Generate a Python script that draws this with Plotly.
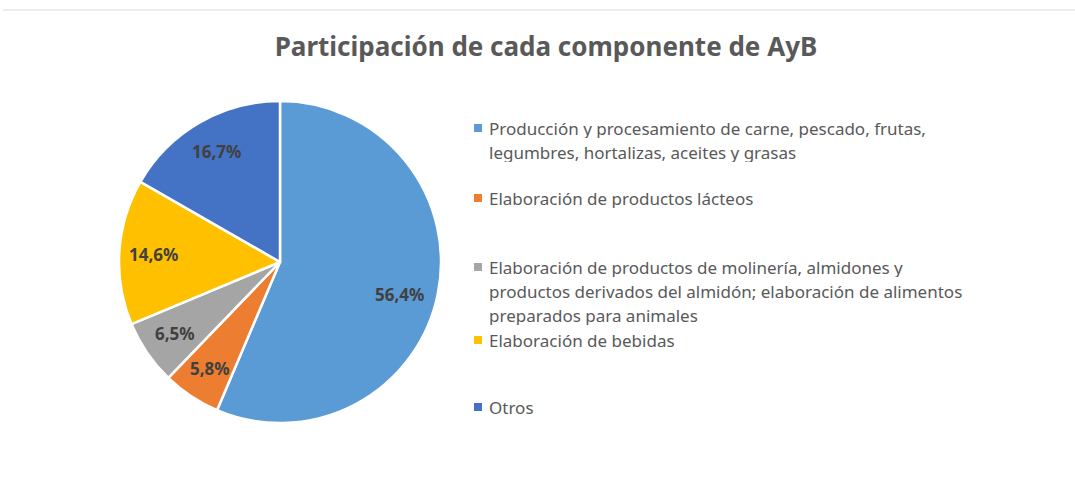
import math
import plotly.graph_objects as go

labels = [
    "Producción y procesamiento de carne, pescado, frutas,<br>legumbres, hortalizas, aceites y grasas",
    "Elaboración de productos lácteos",
    "Elaboración de productos de molinería, almidones y<br>productos derivados del almidón; elaboración de alimentos<br>preparados para animales",
    "Elaboración de bebidas",
    "Otros",
]
values = [56.4, 5.8, 6.5, 14.6, 16.7]
text_labels = ["56,4%", "5,8%", "6,5%", "14,6%", "16,7%"]
colors = ["#5B9BD5", "#ED7D31", "#A5A5A5", "#FFC000", "#4472C4"]
legend_y = [128, 198, 267, 340, 407]  # pixel y of first line of each legend entry

W, H = 1075, 488
CX, CY, R = 280, 262, 161  # pie center / radius in pixels

fig = go.Figure()
fig.add_trace(go.Pie(
    labels=labels, values=values, textinfo="none",
    marker=dict(colors=colors, line=dict(color="white", width=2.5)),
    sort=False, direction="clockwise", rotation=0,
    domain=dict(x=[(CX - R) / W, (CX + R) / W], y=[1 - (CY + R) / H, 1 - (CY - R) / H]),
    showlegend=False, hoverinfo="label+percent",
))

# data labels placed at slice mid-angles (derived from values)
total = sum(values)
cum = 0.0
for v, t in zip(values, text_labels):
    mid = (cum + v / 2) / total * 2 * math.pi
    cum += v
    f = 0.76 if v > 50 else 0.79
    px = CX + f * R * math.sin(mid)
    py = CY - f * R * math.cos(mid) + (8 if v > 50 else 0)
    fig.add_annotation(xref="paper", yref="paper", x=px / W, y=1 - py / H,
                       xanchor="center", yanchor="middle", showarrow=False, text=f"<b>{t}</b>",
                       font=dict(family="Noto Sans", size=17, color="#404040"))

LINE = 24
for lab, col, yy in zip(labels, colors, legend_y):
    fig.add_shape(type="rect", xref="paper", yref="paper",
                  x0=474 / W, x1=482 / W, y0=1 - (yy + 4) / H, y1=1 - (yy - 4) / H,
                  fillcolor=col, line=dict(width=0))
    for i, line in enumerate(lab.split("<br>")):
        fig.add_annotation(xref="paper", yref="paper", x=487 / W, y=1 - (yy + i * LINE) / H,
                           xanchor="left", yanchor="middle", align="left", showarrow=False,
                           height=19, valign="middle",
                           text=line, font=dict(family="Noto Sans", size=17, color="#595959"))

fig.add_shape(type="line", xref="paper", yref="paper", x0=3 / W, x1=1, y0=1 - 10 / H, y1=1 - 10 / H,
              line=dict(color="#D9D9D9", width=1))

fig.update_layout(
    width=W, height=H, margin=dict(l=0, r=0, t=0, b=0),
    paper_bgcolor="white", plot_bgcolor="white",
    title=dict(text="<b>Participación de cada componente de AyB</b>", x=546 / W, xanchor="center",
               y=1 - 47 / H, yanchor="middle",
               font=dict(family="Noto Sans", size=26, color="#595959")),
)

fig.write_html("out.html", config={"displayModeBar": False})
with open("out.html", encoding="utf-8") as fh:
    html = fh.read()
html = html.replace("<body>", '<body style="margin:0;overflow:hidden;">', 1)
with open("out.html", "w", encoding="utf-8") as fh:
    fh.write(html)
